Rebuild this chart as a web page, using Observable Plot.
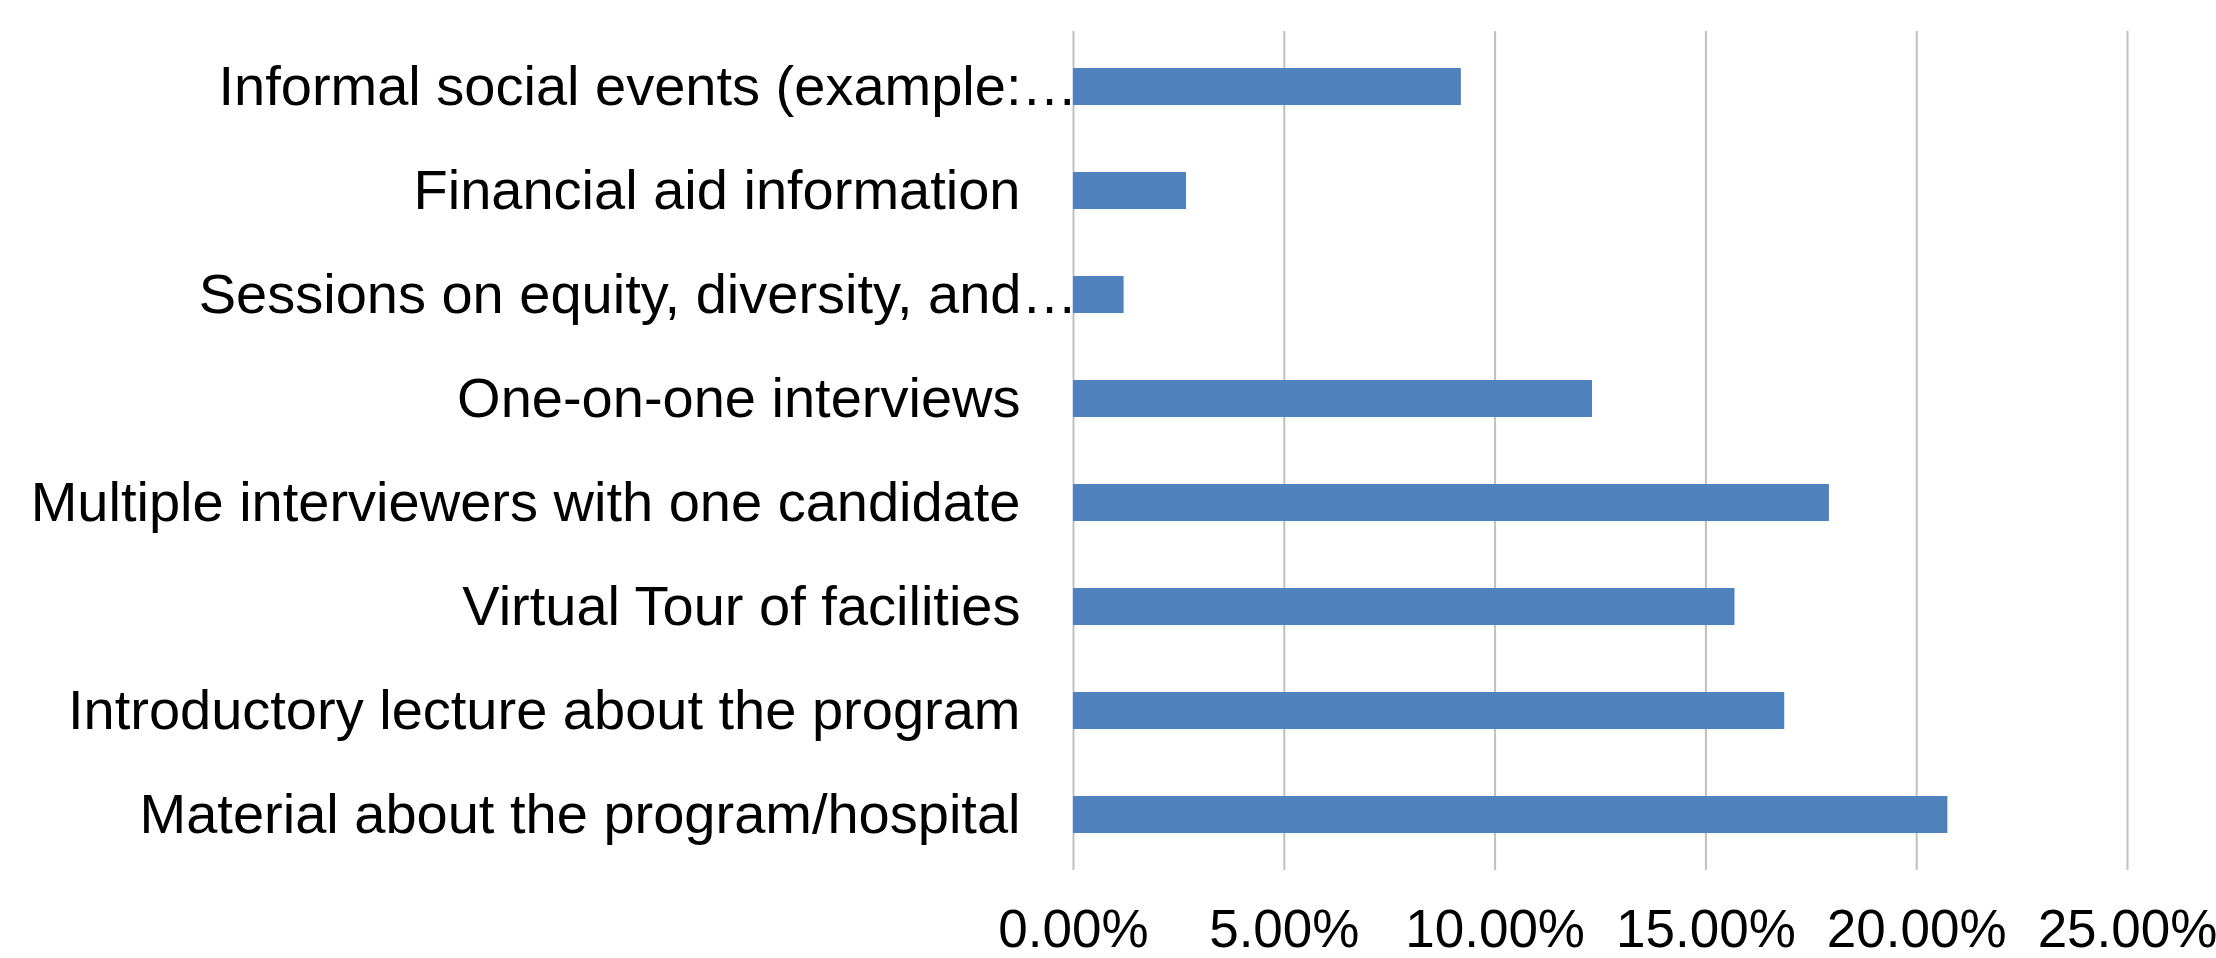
<!DOCTYPE html>
<html>
<head>
<meta charset="utf-8">
<script src="https://cdn.jsdelivr.net/npm/d3@7"></script>
<script src="https://cdn.jsdelivr.net/npm/@observablehq/plot@0.6"></script>
<style>
  html, body { margin: 0; padding: 0; background: #fff; }
  #chart svg { display: block; }
</style>
</head>
<body>
<div id="chart"></div>
<script>
// Categories, top to bottom as shown
const categories = [
  "Informal social events (example:…",
  "Financial aid information",
  "Sessions on equity, diversity, and…",
  "One-on-one interviews",
  "Multiple interviewers with one candidate",
  "Virtual Tour of facilities",
  "Introductory lecture about the program",
  "Material about the program/hospital"
];
// Share of responses (fraction)
const values = [0.0920, 0.0268, 0.0120, 0.1231, 0.1793, 0.1569, 0.1687, 0.2074];
// Labels truncated by the source chart (drawn flush against the axis)
const truncated = ["Informal social events (example:…", "Sessions on equity, diversity, and…"];
const fullLabels = categories.filter(c => !truncated.includes(c));
const xTicks = [0, 0.05, 0.10, 0.15, 0.20, 0.25];

const data = categories.map((c, i) => ({category: c, value: values[i]}));

const chart = Plot.plot({
  width: 2216,
  height: 958,
  marginTop: 31,
  marginBottom: 88,
  marginLeft: 1073,
  marginRight: 89,
  style: {fontFamily: "'Liberation Sans', Arial, sans-serif", background: "#fff", color: "#000"},
  x: {domain: [0, 0.25]},
  y: {domain: categories, paddingInner: 0.647, paddingOuter: 0.3235},
  marks: [
    Plot.gridX(xTicks, {stroke: "#c0c0c0", strokeOpacity: 1, strokeWidth: 2}),
    Plot.barX(data, {x: "value", y: "category", fill: "#4f81bd"}),
    Plot.axisX({ticks: xTicks, tickFormat: d3.format(".2%"), tickSize: 0, tickPadding: 39,
                fontSize: 53, label: null, fill: "#000"}),
    Plot.axisY({ticks: fullLabels, tickSize: 0, tickPadding: 53, fontSize: 56, label: null, fill: "#000"}),
    Plot.axisY({ticks: truncated, tickSize: 0, tickPadding: -4, fontSize: 56, label: null, fill: "#000"})
  ]
});
document.getElementById("chart").appendChild(chart);
</script>
</body>
</html>
